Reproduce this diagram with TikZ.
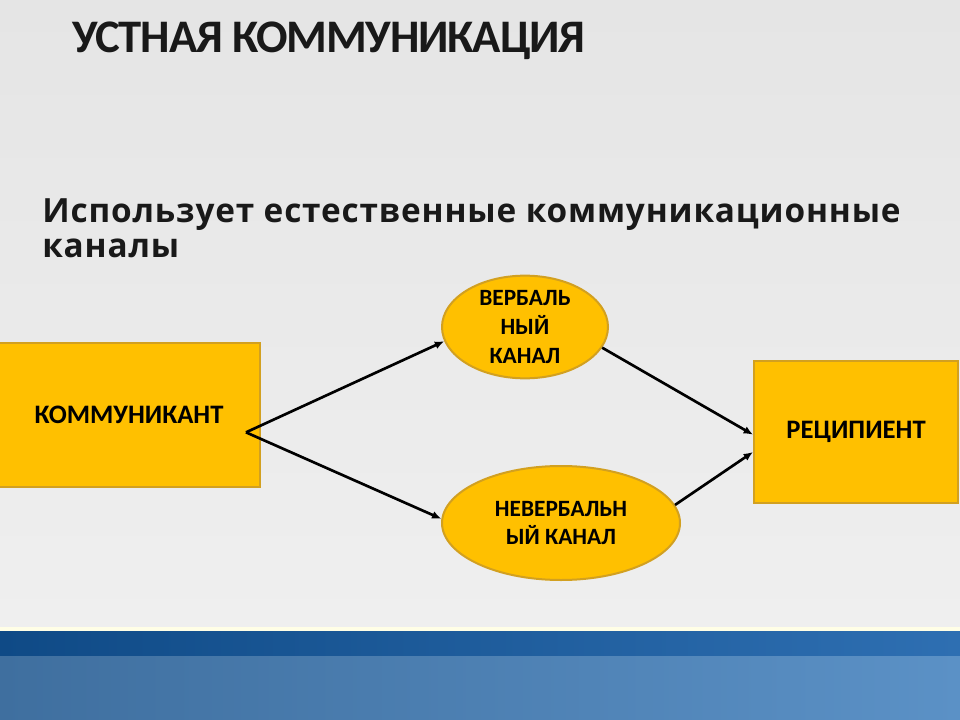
\documentclass[tikz,border=0pt]{standalone}
\usepackage{fontspec}
\setmainfont{Carlito}
\newfontfamily\leadfont[LetterSpace=2.5]{Open Sans}
\newfontfamily\titlefont[LetterSpace=-2.5]{Carlito}
\usepackage{tikz}
\usetikzlibrary{arrows.meta,positioning,shapes.geometric}

\definecolor{slidetop}{HTML}{E5E5E5}
\definecolor{slidelow}{HTML}{EFEFEF}
\definecolor{boxfill}{HTML}{FFC000}
\definecolor{boxline}{HTML}{D2A020}
\definecolor{banddark}{HTML}{0F4A86}
\definecolor{bandmid}{HTML}{2E6FB2}
\definecolor{bandlow}{HTML}{3F6F9F}
\definecolor{bandhigh}{HTML}{5B91C6}

\begin{document}
\begin{tikzpicture}[x=0.75pt,y=-0.75pt,
  box/.style={draw=boxline,line width=1.5pt,fill=boxfill,inner sep=0pt,
    font=\bfseries\fontsize{20}{22}\selectfont,text=black,align=center},
  chan/.style={box,ellipse,font=\bfseries\fontsize{17.5}{21.5}\selectfont},
  link/.style={-{Latex[length=7pt,width=6pt]},line width=2pt,black}]
  \useasboundingbox (0,0) rectangle (960,720);
  \shade[top color=slidetop,bottom color=slidelow] (0,0) rectangle (960,630);
  \fill[white!90!yellow] (0,627) rectangle (960,631);
  \shade[left color=banddark,right color=bandmid] (0,631) rectangle (960,656);
  \shade[left color=bandlow,right color=bandhigh] (0,656) rectangle (960,720);
  \node[anchor=base west,inner sep=0pt,font=\titlefont\bfseries\fontsize{35}{40}\selectfont,text=black!90] (title) at (72,53) {УСТНАЯ КОММУНИКАЦИЯ};
  \node[anchor=base west,inner sep=0pt,align=left,font=\leadfont\bfseries\fontsize{25}{27}\selectfont,text=black!90] (lead) at (42,258) {Использует естественные коммуникационные\\каналы};
  \node[box,minimum width=196pt,minimum height=108pt] (kom) at (129,415) {КОММУНИКАНТ};
  \node[chan,minimum width=124.5pt,minimum height=72pt] (verb) at (525,327) {ВЕРБАЛЬ\\НЫЙ\\КАНАЛ};
  \node[chan,minimum width=178.5pt,minimum height=85.5pt] (nonverb) at (561,523) {НЕВЕРБАЛЬН\\ЫЙ КАНАЛ};
  \node[box,minimum width=153pt,minimum height=106.5pt] (recip) at (856,432) {РЕЦИПИЕНТ};
  \coordinate (src) at ([xshift=-11pt,yshift=-13pt]kom.east);
  \draw[link] (src) -- (verb.190);
  \draw[link] (src) -- (nonverb.178);
  \draw[link] (verb.-15) -- ([yshift=-2pt]recip.west);
  \draw[link] (nonverb.9) -- ([yshift=-15pt]recip.west);
\end{tikzpicture}
\end{document}
